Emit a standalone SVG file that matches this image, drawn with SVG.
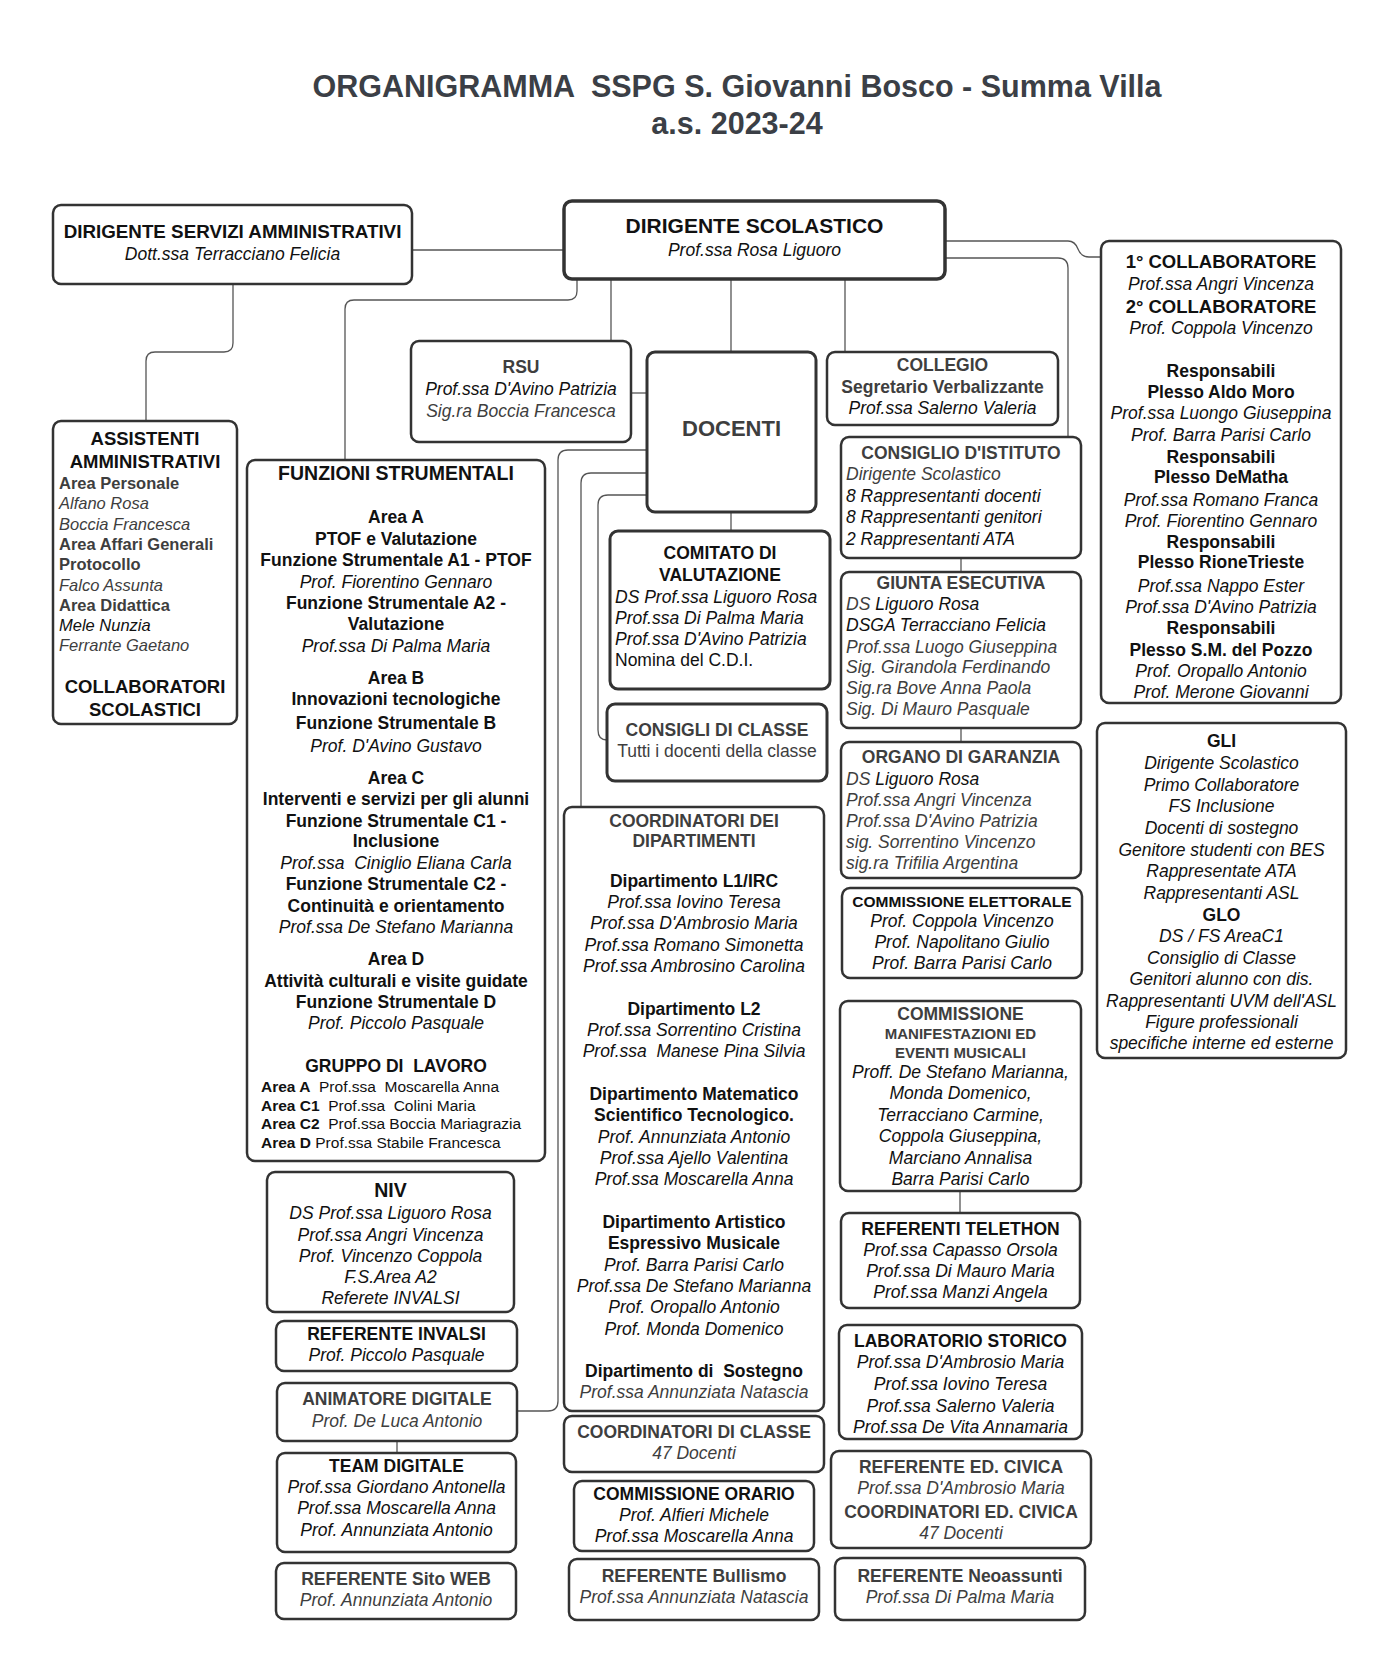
<svg xmlns="http://www.w3.org/2000/svg" width="1399" height="1657" viewBox="0 0 1399 1657">
<style>
text{font-family:"Liberation Sans",Arial,sans-serif;font-size:17.5px;fill:#111}
.box{fill:#fff;stroke:#333;stroke-width:2.5}
.con{fill:none;stroke:#555;stroke-width:1.3}
.title{font-size:30.5px;font-weight:bold;fill:#3b3f46}
.hd{font-weight:bold;font-size:18.5px}
.b{font-weight:bold}
.it{font-style:italic}
.g{fill:#3e3e3e}
.sm{font-size:15.5px}
</style>
<rect width="1399" height="1657" fill="#fff"/>
<g id="title" text-anchor="middle">
<text class="title" x="737" y="97">ORGANIGRAMMA &#160;SSPG S. Giovanni Bosco - Summa Villa</text>
<text class="title" x="737" y="134">a.s. 2023-24</text>
</g>
<g id="connectors">
<path class="con" d="M412,250 H564"/>
<path class="con" d="M233,284 V343 Q233,352 224,352 H155 Q146,352 146,361 V421"/>
<path class="con" d="M577,279 V291 Q577,300 568,300 H354 Q345,300 345,309 V460"/>
<path class="con" d="M611,279 V341"/>
<path class="con" d="M731,279 V352"/>
<path class="con" d="M845,279 V352"/>
<path class="con" d="M945,241 H1068 Q1075,241 1078,249 Q1081,257 1089,257 H1101"/>
<path class="con" d="M945,258 H1058 Q1068,258 1068,268 V437"/>
<path class="con" d="M631,393 H647"/>
<path class="con" d="M731,512 V531"/>
<path class="con" d="M647,450 H568 Q558,450 558,460 V1401 Q558,1411 548,1411 H517"/>
<path class="con" d="M647,473 H591 Q581,473 581,483 V807"/>
<path class="con" d="M647,495 H608 Q598,495 598,505 V730 Q598,740 607,740"/>
<path class="con" d="M961,558 V572"/>
<path class="con" d="M961,728 V742"/>
<path class="con" d="M960,1191 V1213"/>
<path class="con" d="M397,1441 V1453"/>
</g>
<g id="dsa" text-anchor="middle">
<rect class="box" x="53" y="205" width="359" height="79" rx="8"/>
<text class="b" style="font-size:18.8px" x="232.5" y="238">DIRIGENTE SERVIZI AMMINISTRATIVI</text>
<text class="it" x="232.5" y="260">Dott.ssa Terracciano Felicia</text>
</g>
<g id="ds" text-anchor="middle">
<rect class="box" x="564" y="201" width="381" height="78" rx="8" style="stroke-width:3.5"/>
<text class="b" style="font-size:21px" x="754.5" y="233">DIRIGENTE SCOLASTICO</text>
<text class="it" x="754.5" y="256">Prof.ssa Rosa Liguoro</text>
</g>
<g id="assistenti">
<rect class="box" x="53" y="421" width="184" height="303" rx="8"/>
<g text-anchor="middle">
<text class="hd" x="145" y="445">ASSISTENTI</text>
<text class="hd" x="145" y="468">AMMINISTRATIVI</text>
<text class="hd" x="145" y="693">COLLABORATORI</text>
<text class="hd" x="145" y="716">SCOLASTICI</text>
</g>
<text class="b g" style="font-size:16.5px" x="59" y="489">Area Personale</text>
<text class="it g" style="font-size:16.5px" x="59" y="509">Alfano Rosa</text>
<text class="it g" style="font-size:16.5px" x="59" y="530">Boccia Francesca</text>
<text class="b g" style="font-size:16.5px" x="59" y="550">Area Affari Generali</text>
<text class="b g" style="font-size:16.5px" x="59" y="570">Protocollo</text>
<text class="it g" style="font-size:16.5px" x="59" y="591">Falco Assunta</text>
<text class="b g" style="font-size:16.5px" x="59" y="611">Area Didattica</text>
<text class="it" style="font-size:16.5px" x="59" y="631">Mele Nunzia</text>
<text class="it g" style="font-size:16.5px" x="59" y="651">Ferrante Gaetano</text>
</g>
<g id="funzioni" text-anchor="middle">
<rect class="box" x="247" y="460" width="298" height="701" rx="8"/>
<text class="b" style="font-size:19.5px" x="396" y="480">FUNZIONI STRUMENTALI</text>
<text class="b" x="396" y="523">Area A</text>
<text class="b" x="396" y="545">PTOF e Valutazione</text>
<text class="b" x="396" y="566">Funzione Strumentale A1 - PTOF</text>
<text class="it" x="396" y="588">Prof. Fiorentino Gennaro</text>
<text class="b" x="396" y="609">Funzione Strumentale A2 -</text>
<text class="b" x="396" y="630">Valutazione</text>
<text class="it" x="396" y="652">Prof.ssa Di Palma Maria</text>
<text class="b" x="396" y="684">Area B</text>
<text class="b" x="396" y="705">Innovazioni tecnologiche</text>
<text class="b" x="396" y="729">Funzione Strumentale B</text>
<text class="it" x="396" y="752">Prof. D'Avino Gustavo</text>
<text class="b" x="396" y="784">Area C</text>
<text class="b" x="396" y="805">Interventi e servizi per gli alunni</text>
<text class="b" x="396" y="827">Funzione Strumentale C1 -</text>
<text class="b" x="396" y="847">Inclusione</text>
<text class="it" x="396" y="869">Prof.ssa &#160;Ciniglio Eliana Carla</text>
<text class="b" x="396" y="890">Funzione Strumentale C2 -</text>
<text class="b" x="396" y="912">Continuità e orientamento</text>
<text class="it" x="396" y="933">Prof.ssa De Stefano Marianna</text>
<text class="b" x="396" y="965">Area D</text>
<text class="b" x="396" y="987">Attività culturali e visite guidate</text>
<text class="b" x="396" y="1008">Funzione Strumentale D</text>
<text class="it" x="396" y="1029">Prof. Piccolo Pasquale</text>
<text class="b" x="396" y="1072">GRUPPO DI &#160;LAVORO</text>
<g text-anchor="start">
<text class="sm" x="261" y="1092"><tspan class="b">Area A</tspan> &#160;Prof.ssa &#160;Moscarella Anna</text>
<text class="sm" x="261" y="1111"><tspan class="b">Area C1</tspan> &#160;Prof.ssa &#160;Colini Maria</text>
<text class="sm" x="261" y="1129"><tspan class="b">Area C2</tspan> &#160;Prof.ssa Boccia Mariagrazia</text>
<text class="sm" x="261" y="1148"><tspan class="b">Area D</tspan> Prof.ssa Stabile Francesca</text>
</g>
</g>
<g id="niv" text-anchor="middle">
<rect class="box" x="267" y="1172" width="247" height="140" rx="8"/>
<text class="b" style="font-size:19.5px" x="390.5" y="1197">NIV</text>
<text class="it" x="390.5" y="1219">DS Prof.ssa Liguoro Rosa</text>
<text class="it" x="390.5" y="1241">Prof.ssa Angri Vincenza</text>
<text class="it" x="390.5" y="1262">Prof. Vincenzo Coppola</text>
<text class="it" x="390.5" y="1283">F.S.Area A2</text>
<text class="it" x="390.5" y="1304">Referete INVALSI</text>
</g>
<g id="ref-invalsi" text-anchor="middle">
<rect class="box" x="276" y="1321" width="241" height="50" rx="8"/>
<text class="b" x="396.5" y="1340">REFERENTE INVALSI</text>
<text class="it" x="396.5" y="1361">Prof. Piccolo Pasquale</text>
</g>
<g id="animatore" text-anchor="middle">
<rect class="box" x="277" y="1383" width="240" height="58" rx="8"/>
<text class="b g" x="397" y="1405">ANIMATORE DIGITALE</text>
<text class="it g" x="397" y="1427">Prof. De Luca Antonio</text>
</g>
<g id="team" text-anchor="middle">
<rect class="box" x="277" y="1453" width="239" height="99" rx="8"/>
<text class="b" x="396.5" y="1472">TEAM DIGITALE</text>
<text class="it" x="396.5" y="1493">Prof.ssa Giordano Antonella</text>
<text class="it" x="396.5" y="1514">Prof.ssa Moscarella Anna</text>
<text class="it" x="396.5" y="1536">Prof. Annunziata Antonio</text>
</g>
<g id="sito" text-anchor="middle">
<rect class="box" x="276" y="1563" width="240" height="56" rx="8"/>
<text class="b g" x="396" y="1585">REFERENTE Sito WEB</text>
<text class="it g" x="396" y="1606">Prof. Annunziata Antonio</text>
</g>
<g id="rsu" text-anchor="middle">
<rect class="box" x="411" y="341" width="220" height="101" rx="8"/>
<text class="b g" x="521" y="373">RSU</text>
<text class="it" x="521" y="395">Prof.ssa D'Avino Patrizia</text>
<text class="it g" x="521" y="417">Sig.ra Boccia Francesca</text>
</g>
<g id="docenti" text-anchor="middle">
<rect class="box" x="647" y="352" width="169" height="160" rx="8" style="stroke-width:3"/>
<text class="b g" style="font-size:22px" x="731.5" y="436">DOCENTI</text>
</g>
<g id="comitato">
<rect class="box" x="610" y="531" width="220" height="158" rx="8" style="stroke-width:3"/>
<g text-anchor="middle">
<text class="b" x="720" y="559">COMITATO DI</text>
<text class="b" x="720" y="581">VALUTAZIONE</text>
</g>
<text class="it" x="615" y="603">DS Prof.ssa Liguoro Rosa</text>
<text class="it" x="615" y="624">Prof.ssa Di Palma Maria</text>
<text class="it" x="615" y="645">Prof.ssa D'Avino Patrizia</text>
<text x="615" y="666">Nomina del C.D.I.</text>
</g>
<g id="consigli-classe" text-anchor="middle">
<rect class="box" x="607" y="704" width="220" height="77" rx="8" style="stroke-width:3"/>
<text class="b g" x="717" y="736">CONSIGLI DI CLASSE</text>
<text class="g" x="717" y="757">Tutti i docenti della classe</text>
</g>
<g id="coord-dip" text-anchor="middle">
<rect class="box" x="564" y="807" width="260" height="604" rx="8"/>
<text class="b g" x="694" y="827">COORDINATORI DEI</text>
<text class="b g" x="694" y="847">DIPARTIMENTI</text>
<text class="b" x="694" y="887">Dipartimento L1/IRC</text>
<text class="it" x="694" y="908">Prof.ssa Iovino Teresa</text>
<text class="it" x="694" y="929">Prof.ssa D'Ambrosio Maria</text>
<text class="it" x="694" y="951">Prof.ssa Romano Simonetta</text>
<text class="it" x="694" y="972">Prof.ssa Ambrosino Carolina</text>
<text class="b" x="694" y="1015">Dipartimento L2</text>
<text class="it" x="694" y="1036">Prof.ssa Sorrentino Cristina</text>
<text class="it" x="694" y="1057">Prof.ssa &#160;Manese Pina Silvia</text>
<text class="b" x="694" y="1100">Dipartimento Matematico</text>
<text class="b" x="694" y="1121">Scientifico Tecnologico.</text>
<text class="it" x="694" y="1143">Prof. Annunziata Antonio</text>
<text class="it" x="694" y="1164">Prof.ssa Ajello Valentina</text>
<text class="it" x="694" y="1185">Prof.ssa Moscarella Anna</text>
<text class="b" x="694" y="1228">Dipartimento Artistico</text>
<text class="b" x="694" y="1249">Espressivo Musicale</text>
<text class="it" x="694" y="1271">Prof. Barra Parisi Carlo</text>
<text class="it" x="694" y="1292">Prof.ssa De Stefano Marianna</text>
<text class="it" x="694" y="1313">Prof. Oropallo Antonio</text>
<text class="it" x="694" y="1335">Prof. Monda Domenico</text>
<text class="b" x="694" y="1377">Dipartimento di &#160;Sostegno</text>
<text class="it g" x="694" y="1398">Prof.ssa Annunziata Natascia</text>
</g>
<g id="coord-classe" text-anchor="middle">
<rect class="box" x="564" y="1416" width="260" height="56" rx="8"/>
<text class="b g" x="694" y="1438">COORDINATORI DI CLASSE</text>
<text class="it g" x="694" y="1459">47 Docenti</text>
</g>
<g id="comm-orario" text-anchor="middle">
<rect class="box" x="574" y="1481" width="240" height="70" rx="8"/>
<text class="b" x="694" y="1500">COMMISSIONE ORARIO</text>
<text class="it" x="694" y="1521">Prof. Alfieri Michele</text>
<text class="it" x="694" y="1542">Prof.ssa Moscarella Anna</text>
</g>
<g id="bullismo" text-anchor="middle">
<rect class="box" x="569" y="1559" width="250" height="61" rx="8"/>
<text class="b g" x="694" y="1582">REFERENTE Bullismo</text>
<text class="it g" x="694" y="1603">Prof.ssa Annunziata Natascia</text>
</g>
<g id="collegio" text-anchor="middle">
<rect class="box" x="827" y="352" width="231" height="73" rx="8"/>
<text class="b g" x="942.5" y="371">COLLEGIO</text>
<text class="b g" x="942.5" y="393">Segretario Verbalizzante</text>
<text class="it" x="942.5" y="414">Prof.ssa Salerno Valeria</text>
</g>
<g id="consiglio-istituto">
<rect class="box" x="841" y="437" width="240" height="121" rx="8"/>
<text class="b g" text-anchor="middle" x="961" y="459">CONSIGLIO D'ISTITUTO</text>
<text class="it g" x="846" y="480">Dirigente Scolastico</text>
<text class="it" x="846" y="502">8 Rappresentanti docenti</text>
<text class="it" x="846" y="523">8 Rappresentanti genitori</text>
<text class="it" x="846" y="545">2 Rappresentanti ATA</text>
</g>
<g id="giunta">
<rect class="box" x="841" y="572" width="240" height="156" rx="8"/>
<text class="b g" text-anchor="middle" x="961" y="589">GIUNTA ESECUTIVA</text>
<text class="it" x="846" y="610"><tspan class="g">DS</tspan> Liguoro Rosa</text>
<text class="it" x="846" y="631">DSGA Terracciano Felicia</text>
<text class="it g" x="846" y="653">Prof.ssa Luogo Giuseppina</text>
<text class="it g" x="846" y="673">Sig. Girandola Ferdinando</text>
<text class="it g" x="846" y="694">Sig.ra Bove Anna Paola</text>
<text class="it g" x="846" y="715">Sig. Di Mauro Pasquale</text>
</g>
<g id="organo">
<rect class="box" x="841" y="742" width="240" height="136" rx="8"/>
<text class="b g" text-anchor="middle" x="961" y="763">ORGANO DI GARANZIA</text>
<text class="it" x="846" y="785"><tspan class="g">DS</tspan> Liguoro Rosa</text>
<text class="it g" x="846" y="806">Prof.ssa Angri Vincenza</text>
<text class="it g" x="846" y="827">Prof.ssa D'Avino Patrizia</text>
<text class="it g" x="846" y="848">sig. Sorrentino Vincenzo</text>
<text class="it g" x="846" y="869">sig.ra Trifilia Argentina</text>
</g>
<g id="elettorale" text-anchor="middle">
<rect class="box" x="842" y="888" width="240" height="90" rx="8"/>
<text class="b sm" x="962" y="907">COMMISSIONE ELETTORALE</text>
<text class="it" x="962" y="927">Prof. Coppola Vincenzo</text>
<text class="it" x="962" y="948">Prof. Napolitano Giulio</text>
<text class="it" x="962" y="969">Prof. Barra Parisi Carlo</text>
</g>
<g id="manifestazioni" text-anchor="middle">
<rect class="box" x="840" y="1001" width="241" height="190" rx="8"/>
<text class="b g" x="960.5" y="1020">COMMISSIONE</text>
<text class="b g" style="font-size:15px" x="960.5" y="1039">MANIFESTAZIONI ED</text>
<text class="b g" style="font-size:15px" x="960.5" y="1058">EVENTI MUSICALI</text>
<text class="it" x="960.5" y="1078">Proff. De Stefano Marianna,</text>
<text class="it" x="960.5" y="1099">Monda Domenico,</text>
<text class="it" x="960.5" y="1121">Terracciano Carmine,</text>
<text class="it" x="960.5" y="1142">Coppola Giuseppina,</text>
<text class="it" x="960.5" y="1164">Marciano Annalisa</text>
<text class="it" x="960.5" y="1185">Barra Parisi Carlo</text>
</g>
<g id="telethon" text-anchor="middle">
<rect class="box" x="841" y="1213" width="239" height="95" rx="8"/>
<text class="b" x="960.5" y="1235">REFERENTI TELETHON</text>
<text class="it" x="960.5" y="1256">Prof.ssa Capasso Orsola</text>
<text class="it" x="960.5" y="1277">Prof.ssa Di Mauro Maria</text>
<text class="it" x="960.5" y="1298">Prof.ssa Manzi Angela</text>
</g>
<g id="laboratorio" text-anchor="middle">
<rect class="box" x="839" y="1325" width="243" height="114" rx="8"/>
<text class="b" x="960.5" y="1347">LABORATORIO STORICO</text>
<text class="it" x="960.5" y="1368">Prof.ssa D'Ambrosio Maria</text>
<text class="it" x="960.5" y="1390">Prof.ssa Iovino Teresa</text>
<text class="it" x="960.5" y="1412">Prof.ssa Salerno Valeria</text>
<text class="it" x="960.5" y="1433">Prof.ssa De Vita Annamaria</text>
</g>
<g id="ed-civica" text-anchor="middle">
<rect class="box" x="831" y="1451" width="260" height="97" rx="8"/>
<text class="b g" x="961" y="1473">REFERENTE ED. CIVICA</text>
<text class="it g" x="961" y="1494">Prof.ssa D'Ambrosio Maria</text>
<text class="b g" x="961" y="1518">COORDINATORI ED. CIVICA</text>
<text class="it g" x="961" y="1539">47 Docenti</text>
</g>
<g id="neoassunti" text-anchor="middle">
<rect class="box" x="835" y="1558" width="250" height="62" rx="8"/>
<text class="b g" x="960" y="1582">REFERENTE Neoassunti</text>
<text class="it g" x="960" y="1603">Prof.ssa Di Palma Maria</text>
</g>
<g id="collaboratori" text-anchor="middle">
<rect class="box" x="1101" y="241" width="240" height="462" rx="8"/>
<text class="hd" x="1221" y="268">1° COLLABORATORE</text>
<text class="it" x="1221" y="290">Prof.ssa Angri Vincenza</text>
<text class="hd" x="1221" y="313">2° COLLABORATORE</text>
<text class="it" x="1221" y="334">Prof. Coppola Vincenzo</text>
<text class="b" x="1221" y="377">Responsabili</text>
<text class="b" x="1221" y="398">Plesso Aldo Moro</text>
<text class="it" x="1221" y="419">Prof.ssa Luongo Giuseppina</text>
<text class="it" x="1221" y="441">Prof. Barra Parisi Carlo</text>
<text class="b" x="1221" y="463">Responsabili</text>
<text class="b" x="1221" y="483">Plesso DeMatha</text>
<text class="it" x="1221" y="506">Prof.ssa Romano Franca</text>
<text class="it" x="1221" y="527">Prof. Fiorentino Gennaro</text>
<text class="b" x="1221" y="548">Responsabili</text>
<text class="b" x="1221" y="568">Plesso RioneTrieste</text>
<text class="it" x="1221" y="592">Prof.ssa Nappo Ester</text>
<text class="it" x="1221" y="613">Prof.ssa D'Avino Patrizia</text>
<text class="b" x="1221" y="634">Responsabili</text>
<text class="b" x="1221" y="656">Plesso S.M. del Pozzo</text>
<text class="it" x="1221" y="677">Prof. Oropallo Antonio</text>
<text class="it" x="1221" y="698">Prof. Merone Giovanni</text>
</g>
<g id="gli" text-anchor="middle">
<rect class="box" x="1097" y="723" width="249" height="335" rx="8"/>
<text class="b" x="1221.5" y="747">GLI</text>
<text class="it" x="1221.5" y="769">Dirigente Scolastico</text>
<text class="it" x="1221.5" y="791">Primo Collaboratore</text>
<text class="it" x="1221.5" y="812">FS Inclusione</text>
<text class="it" x="1221.5" y="834">Docenti di sostegno</text>
<text class="it" x="1221.5" y="856">Genitore studenti con BES</text>
<text class="it" x="1221.5" y="877">Rappresentate ATA</text>
<text class="it" x="1221.5" y="899">Rappresentanti ASL</text>
<text class="b" x="1221.5" y="921">GLO</text>
<text class="it" x="1221.5" y="942">DS / FS AreaC1</text>
<text class="it" x="1221.5" y="964">Consiglio di Classe</text>
<text class="it" x="1221.5" y="985">Genitori alunno con dis.</text>
<text class="it" x="1221.5" y="1007">Rappresentanti UVM dell'ASL</text>
<text class="it" x="1221.5" y="1028">Figure professionali</text>
<text class="it" x="1221.5" y="1049">specifiche interne ed esterne</text>
</g>
</svg>
